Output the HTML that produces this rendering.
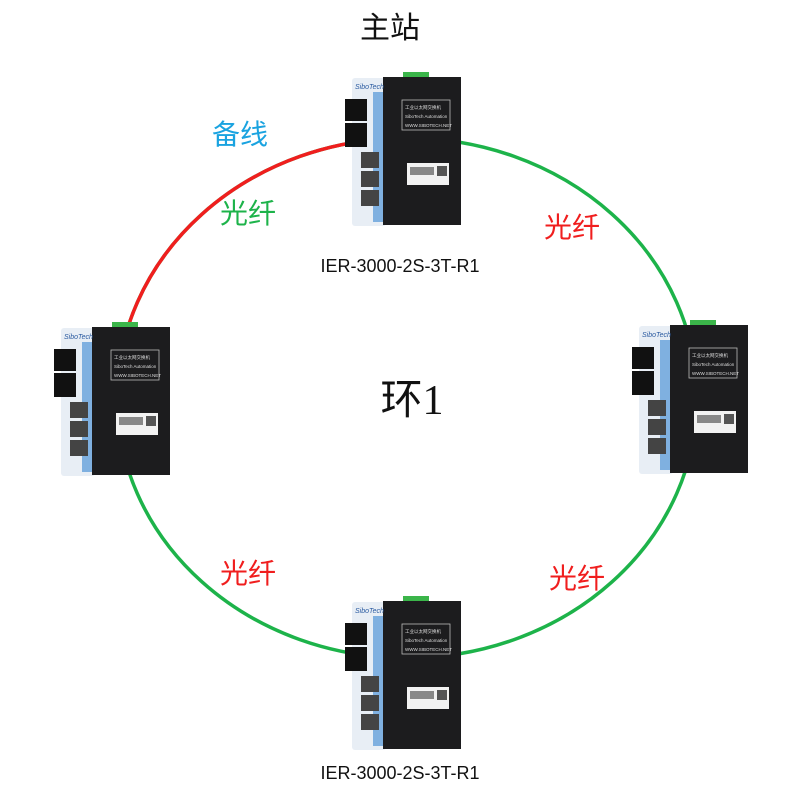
<!DOCTYPE html>
<html><head><meta charset="utf-8"><style>
body{margin:0;background:#fff;}
svg{display:block}
</style></head><body>
<svg width="800" height="800" xmlns="http://www.w3.org/2000/svg" font-family="Liberation Sans, Noto Sans CJK SC, sans-serif">
<ellipse cx="407" cy="398" rx="290" ry="260" fill="none" stroke="#1db34a" stroke-width="3.5"/>
<path d="M 407 138 A 290 260 0 0 0 117 398" fill="none" stroke="#f01e1e" stroke-width="3.5"/>

<g id="d1" transform="translate(343,72)">
 <rect x="60" y="0" width="26" height="9" fill="#3bb54a"/>
 <rect x="9" y="6" width="34" height="148" rx="3" fill="#e8eef5"/>
 <rect x="30" y="20" width="12" height="130" fill="#7fb0e0"/>
 <rect x="40" y="5" width="78" height="148" fill="#1c1c1e"/>
 <rect x="2" y="27" width="22" height="22" fill="#111"/>
 <rect x="2" y="51" width="22" height="24" fill="#111"/>
 <rect x="18" y="80" width="18" height="16" fill="#444"/>
 <rect x="18" y="99" width="18" height="16" fill="#444"/>
 <rect x="18" y="118" width="18" height="16" fill="#444"/>
 <text x="12" y="17" font-size="7" fill="#2a5aa0" font-style="italic">SiboTech</text>
 <rect x="59" y="28" width="48" height="30" fill="none" stroke="#bbb" stroke-width="0.8"/>
 <text x="62" y="37" font-size="4.5" fill="#ddd">工业以太网交换机</text>
 <text x="62" y="46" font-size="4.5" fill="#ddd">SiboTech Automation</text>
 <text x="62" y="55" font-size="4.5" fill="#ddd">WWW.SIBOTECH.NET</text>
 <rect x="64" y="91" width="42" height="22" fill="#f2f2f2"/>
 <rect x="67" y="95" width="24" height="8" fill="#888"/>
 <rect x="94" y="94" width="10" height="10" fill="#555"/>
</g>
<g transform="translate(52,322)">
 <rect x="60" y="0" width="26" height="9" fill="#3bb54a"/>
 <rect x="9" y="6" width="34" height="148" rx="3" fill="#e8eef5"/>
 <rect x="30" y="20" width="12" height="130" fill="#7fb0e0"/>
 <rect x="40" y="5" width="78" height="148" fill="#1c1c1e"/>
 <rect x="2" y="27" width="22" height="22" fill="#111"/>
 <rect x="2" y="51" width="22" height="24" fill="#111"/>
 <rect x="18" y="80" width="18" height="16" fill="#444"/>
 <rect x="18" y="99" width="18" height="16" fill="#444"/>
 <rect x="18" y="118" width="18" height="16" fill="#444"/>
 <text x="12" y="17" font-size="7" fill="#2a5aa0" font-style="italic">SiboTech</text>
 <rect x="59" y="28" width="48" height="30" fill="none" stroke="#bbb" stroke-width="0.8"/>
 <text x="62" y="37" font-size="4.5" fill="#ddd">工业以太网交换机</text>
 <text x="62" y="46" font-size="4.5" fill="#ddd">SiboTech Automation</text>
 <text x="62" y="55" font-size="4.5" fill="#ddd">WWW.SIBOTECH.NET</text>
 <rect x="64" y="91" width="42" height="22" fill="#f2f2f2"/>
 <rect x="67" y="95" width="24" height="8" fill="#888"/>
 <rect x="94" y="94" width="10" height="10" fill="#555"/>
</g>
<g transform="translate(630,320)">
 <rect x="60" y="0" width="26" height="9" fill="#3bb54a"/>
 <rect x="9" y="6" width="34" height="148" rx="3" fill="#e8eef5"/>
 <rect x="30" y="20" width="12" height="130" fill="#7fb0e0"/>
 <rect x="40" y="5" width="78" height="148" fill="#1c1c1e"/>
 <rect x="2" y="27" width="22" height="22" fill="#111"/>
 <rect x="2" y="51" width="22" height="24" fill="#111"/>
 <rect x="18" y="80" width="18" height="16" fill="#444"/>
 <rect x="18" y="99" width="18" height="16" fill="#444"/>
 <rect x="18" y="118" width="18" height="16" fill="#444"/>
 <text x="12" y="17" font-size="7" fill="#2a5aa0" font-style="italic">SiboTech</text>
 <rect x="59" y="28" width="48" height="30" fill="none" stroke="#bbb" stroke-width="0.8"/>
 <text x="62" y="37" font-size="4.5" fill="#ddd">工业以太网交换机</text>
 <text x="62" y="46" font-size="4.5" fill="#ddd">SiboTech Automation</text>
 <text x="62" y="55" font-size="4.5" fill="#ddd">WWW.SIBOTECH.NET</text>
 <rect x="64" y="91" width="42" height="22" fill="#f2f2f2"/>
 <rect x="67" y="95" width="24" height="8" fill="#888"/>
 <rect x="94" y="94" width="10" height="10" fill="#555"/>
</g>
<g transform="translate(343,596)">
 <rect x="60" y="0" width="26" height="9" fill="#3bb54a"/>
 <rect x="9" y="6" width="34" height="148" rx="3" fill="#e8eef5"/>
 <rect x="30" y="20" width="12" height="130" fill="#7fb0e0"/>
 <rect x="40" y="5" width="78" height="148" fill="#1c1c1e"/>
 <rect x="2" y="27" width="22" height="22" fill="#111"/>
 <rect x="2" y="51" width="22" height="24" fill="#111"/>
 <rect x="18" y="80" width="18" height="16" fill="#444"/>
 <rect x="18" y="99" width="18" height="16" fill="#444"/>
 <rect x="18" y="118" width="18" height="16" fill="#444"/>
 <text x="12" y="17" font-size="7" fill="#2a5aa0" font-style="italic">SiboTech</text>
 <rect x="59" y="28" width="48" height="30" fill="none" stroke="#bbb" stroke-width="0.8"/>
 <text x="62" y="37" font-size="4.5" fill="#ddd">工业以太网交换机</text>
 <text x="62" y="46" font-size="4.5" fill="#ddd">SiboTech Automation</text>
 <text x="62" y="55" font-size="4.5" fill="#ddd">WWW.SIBOTECH.NET</text>
 <rect x="64" y="91" width="42" height="22" fill="#f2f2f2"/>
 <rect x="67" y="95" width="24" height="8" fill="#888"/>
 <rect x="94" y="94" width="10" height="10" fill="#555"/>
</g>

<text x="390" y="38" font-size="30" text-anchor="middle" fill="#111">主站</text>
<text x="240" y="144" font-size="28" text-anchor="middle" fill="#1aa3e0">备线</text>
<text x="248" y="223" font-size="28" text-anchor="middle" fill="#1db34a">光纤</text>
<text x="572" y="237" font-size="28" text-anchor="middle" fill="#f01e1e">光纤</text>
<text x="248" y="583" font-size="28" text-anchor="middle" fill="#f01e1e">光纤</text>
<text x="577" y="588" font-size="28" text-anchor="middle" fill="#f01e1e">光纤</text>
<text x="400" y="272" font-size="18" text-anchor="middle" fill="#111">IER-3000-2S-3T-R1</text>
<text x="400" y="779" font-size="18" text-anchor="middle" fill="#111">IER-3000-2S-3T-R1</text>
<text x="412" y="414" font-size="42" text-anchor="middle" fill="#111">环<tspan font-family="Liberation Serif, serif">1</tspan></text>
</svg>
</body></html>
